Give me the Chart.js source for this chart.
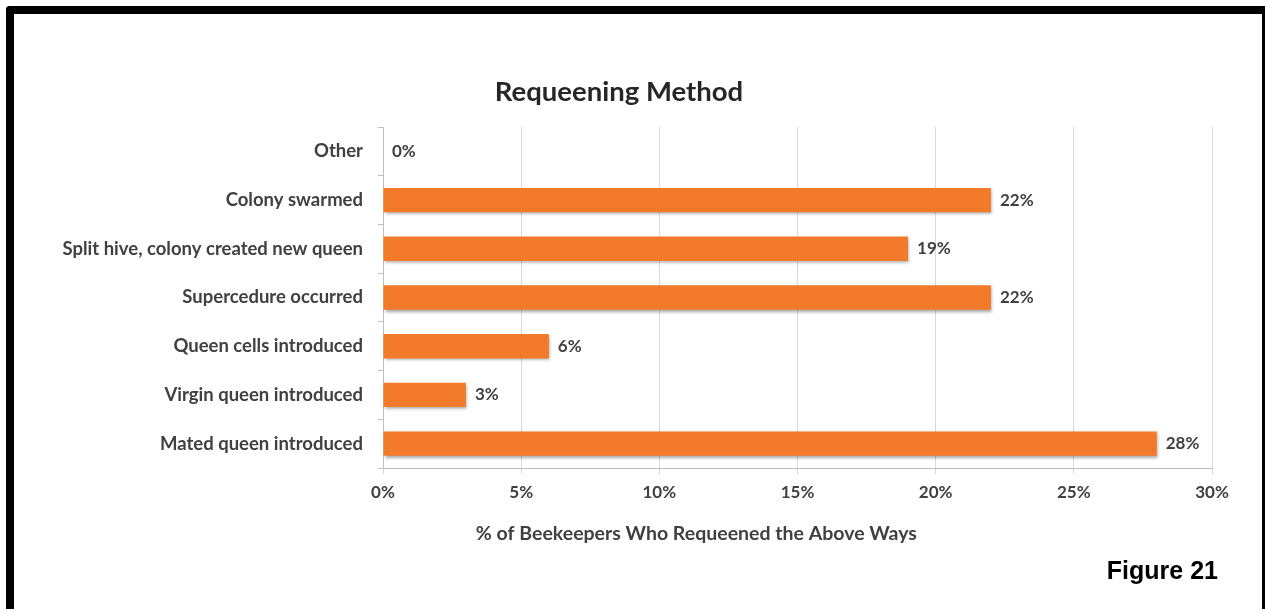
<!DOCTYPE html>
<html>
<head>
<meta charset="utf-8">
<script src="https://cdn.jsdelivr.net/npm/chart.js@4/dist/chart.umd.min.js"></script>
<style>
  html, body { margin: 0; padding: 0; background: #fff; overflow: hidden; }
  body { width: 1265px; height: 609px; position: relative; }
  #marco {
    position: absolute; left: 6px; top: 6px; width: 1248px; height: 700px;
    border-left: 8px solid #000; border-top: 8px solid #000; border-right: 8px solid #000;
    border-top-left-radius: 4px;
  }
  #grafico { position: absolute; left: 0; top: 0; }
  #figura {
    position: absolute; right: 47px; top: 556px;
    font-family: "Liberation Sans", Arial, sans-serif; font-weight: bold; font-size: 25px; color: #000;
  }
</style>
</head>
<body>
<div id="marco"></div>
<canvas id="grafico" width="1265" height="609"></canvas>
<div id="figura">Figure 21</div>
<script>
const fuente = 'Lato';
const colorTexto = '#404040';//color de letra de etiquetas
const colorBarra = '#F37A2A';

//metodos de recambio de reina
const metodos = [
    'Other',
    'Colony swarmed',
    'Split hive, colony created new queen',
    'Supercedure occurred',
    'Queen cells introduced',
    'Virgin queen introduced',
    'Mated queen introduced'
];
const porcentajes = [0, 22, 19, 22, 6, 3, 28];//porcentaje de apicultores
const marcasEjeX = [0, 5, 10, 15, 20, 25, 30];
const tituloEjeX = '% of Beekeepers Who Requeened the Above Ways';

//sombra debajo de las barras
const sombraBarras = {
    id: 'sombraBarras',
    beforeDatasetDraw(chart) {
        const ctx = chart.ctx;
        ctx.save();
        ctx.shadowColor = 'rgba(0,0,0,0.35)';
        ctx.shadowOffsetX = 1;
        ctx.shadowOffsetY = 2;
        ctx.shadowBlur = 3;
    },
    afterDatasetDraw(chart) {
        chart.ctx.restore();
    }
};

//etiquetas de valor al final de cada barra
const etiquetasValor = {
    id: 'etiquetasValor',
    afterDatasetsDraw(chart) {
        const ctx = chart.ctx;
        const meta = chart.getDatasetMeta(0);
        ctx.save();
        ctx.font = 'bold 17px ' + fuente;
        ctx.fillStyle = colorTexto;
        ctx.textAlign = 'left';
        ctx.textBaseline = 'middle';
        meta.data.forEach((barra, i) => {
            ctx.fillText(porcentajes[i] + '%', barra.x + 9, barra.y);
        });
        ctx.restore();
    }
};

//titulo del eje x, algo desplazado a la izquierda del centro
const tituloX = {
    id: 'tituloX',
    afterDraw(chart) {
        const ctx = chart.ctx;
        const area = chart.chartArea;
        ctx.save();
        ctx.font = 'bold 19.5px ' + fuente;
        ctx.fillStyle = colorTexto;
        ctx.textAlign = 'center';
        ctx.textBaseline = 'middle';
        ctx.fillText(tituloEjeX, area.left + (area.right - area.left) * 0.378, 534);
        ctx.restore();
    }
};

const grafico = new Chart(document.getElementById('grafico'), {
    type: 'bar',
    data: {
        labels: metodos,
        datasets: [{
            data: porcentajes,
            backgroundColor: colorBarra,
            borderWidth: 0,
            barPercentage: 0.5,
            categoryPercentage: 1
        }]
    },
    plugins: [sombraBarras, etiquetasValor, tituloX],
    options: {
        indexAxis: 'y',
        responsive: false,
        animation: false,
        layout: { padding: { left: 26, right: 53, top: 0, bottom: 0 } },
        scales: {
            x: {
                min: 0,
                max: 30,
                afterBuildTicks: (eje) => { eje.ticks = marcasEjeX.map(v => ({ value: v })); },
                afterFit: (eje) => { eje.height = 141; },
                grid: { color: '#d9d9d9', tickLength: 6 },
                border: { color: '#bfbfbf' },
                ticks: {
                    color: colorTexto,
                    padding: 8,
                    font: { family: fuente, size: 17, weight: 'bold' },
                    callback: (v) => v + '%'
                }
            },
            y: {
                afterFit: (eje) => { eje.width = 357; },
                grid: { drawOnChartArea: false, offset: true, tickLength: 5, color: '#bfbfbf' },
                border: { color: '#bfbfbf' },
                ticks: {
                    color: colorTexto,
                    padding: 15,
                    font: { family: fuente, size: 18.5, weight: 'bold' }
                }
            }
        },
        plugins: {
            legend: { display: false },
            tooltip: { enabled: false },
            title: {
                display: true,
                text: 'Requeening Method',
                color: '#262626',
                font: { family: fuente, size: 27.5, weight: 'bold', lineHeight: 1.2 },
                padding: { top: 76, bottom: 18 }
            }
        }
    }
});
</script>
</body>
</html>
